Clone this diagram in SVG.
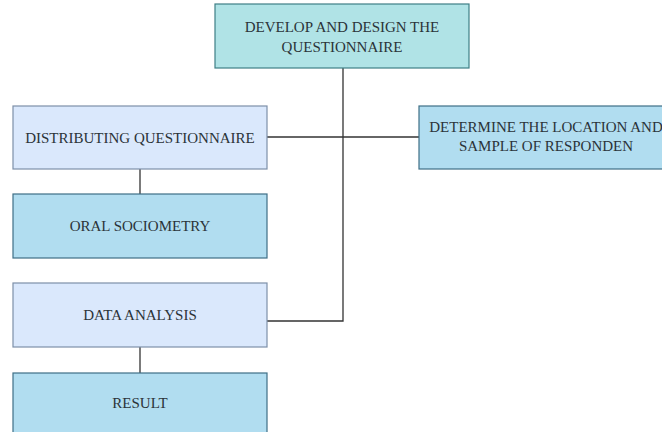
<svg xmlns="http://www.w3.org/2000/svg" width="662" height="432" viewBox="0 0 662 432">
<style>
  .teal { fill: #b0e3e6; stroke: #3f7f86; stroke-width: 1.2; }
  .light { fill: #dae8fc; stroke: #7d8fa8; stroke-width: 1.2; }
  .blue { fill: #b1ddf0; stroke: #3e6f86; stroke-width: 1.2; }
  text { font-family: "Liberation Serif", "Times New Roman", serif; font-size: 15px; fill: #2b3338; text-anchor: middle; }
  .conn { fill: none; stroke: #333333; stroke-width: 1.3; }
</style>
<rect width="662" height="432" fill="#ffffff"/>
<g id="connectors">
  <path class="conn" d="M343 68 V321 H267"/>
  <path class="conn" d="M267 137 H419"/>
  <path class="conn" d="M140 169 V194"/>
  <path class="conn" d="M140 347 V373"/>
</g>
<g id="develop">
  <rect class="teal" x="215" y="4" width="254" height="64"/>
  <text x="342" y="32">DEVELOP AND DESIGN THE</text>
  <text x="342" y="52">QUESTIONNAIRE</text>
</g>
<g id="distributing">
  <rect class="light" x="13" y="106" width="254" height="63"/>
  <text x="140" y="143">DISTRIBUTING QUESTIONNAIRE</text>
</g>
<g id="determine">
  <rect class="blue" x="419" y="106" width="254" height="63"/>
  <text x="546" y="132">DETERMINE THE LOCATION AND</text>
  <text x="546" y="151">SAMPLE OF RESPONDEN</text>
</g>
<g id="oral">
  <rect class="blue" x="13" y="194" width="254" height="64"/>
  <text x="140" y="231">ORAL SOCIOMETRY</text>
</g>
<g id="data">
  <rect class="light" x="13" y="283" width="254" height="64"/>
  <text x="140" y="320">DATA ANALYSIS</text>
</g>
<g id="result">
  <rect class="blue" x="13" y="373" width="254" height="64"/>
  <text x="140" y="408">RESULT</text>
</g>
</svg>
